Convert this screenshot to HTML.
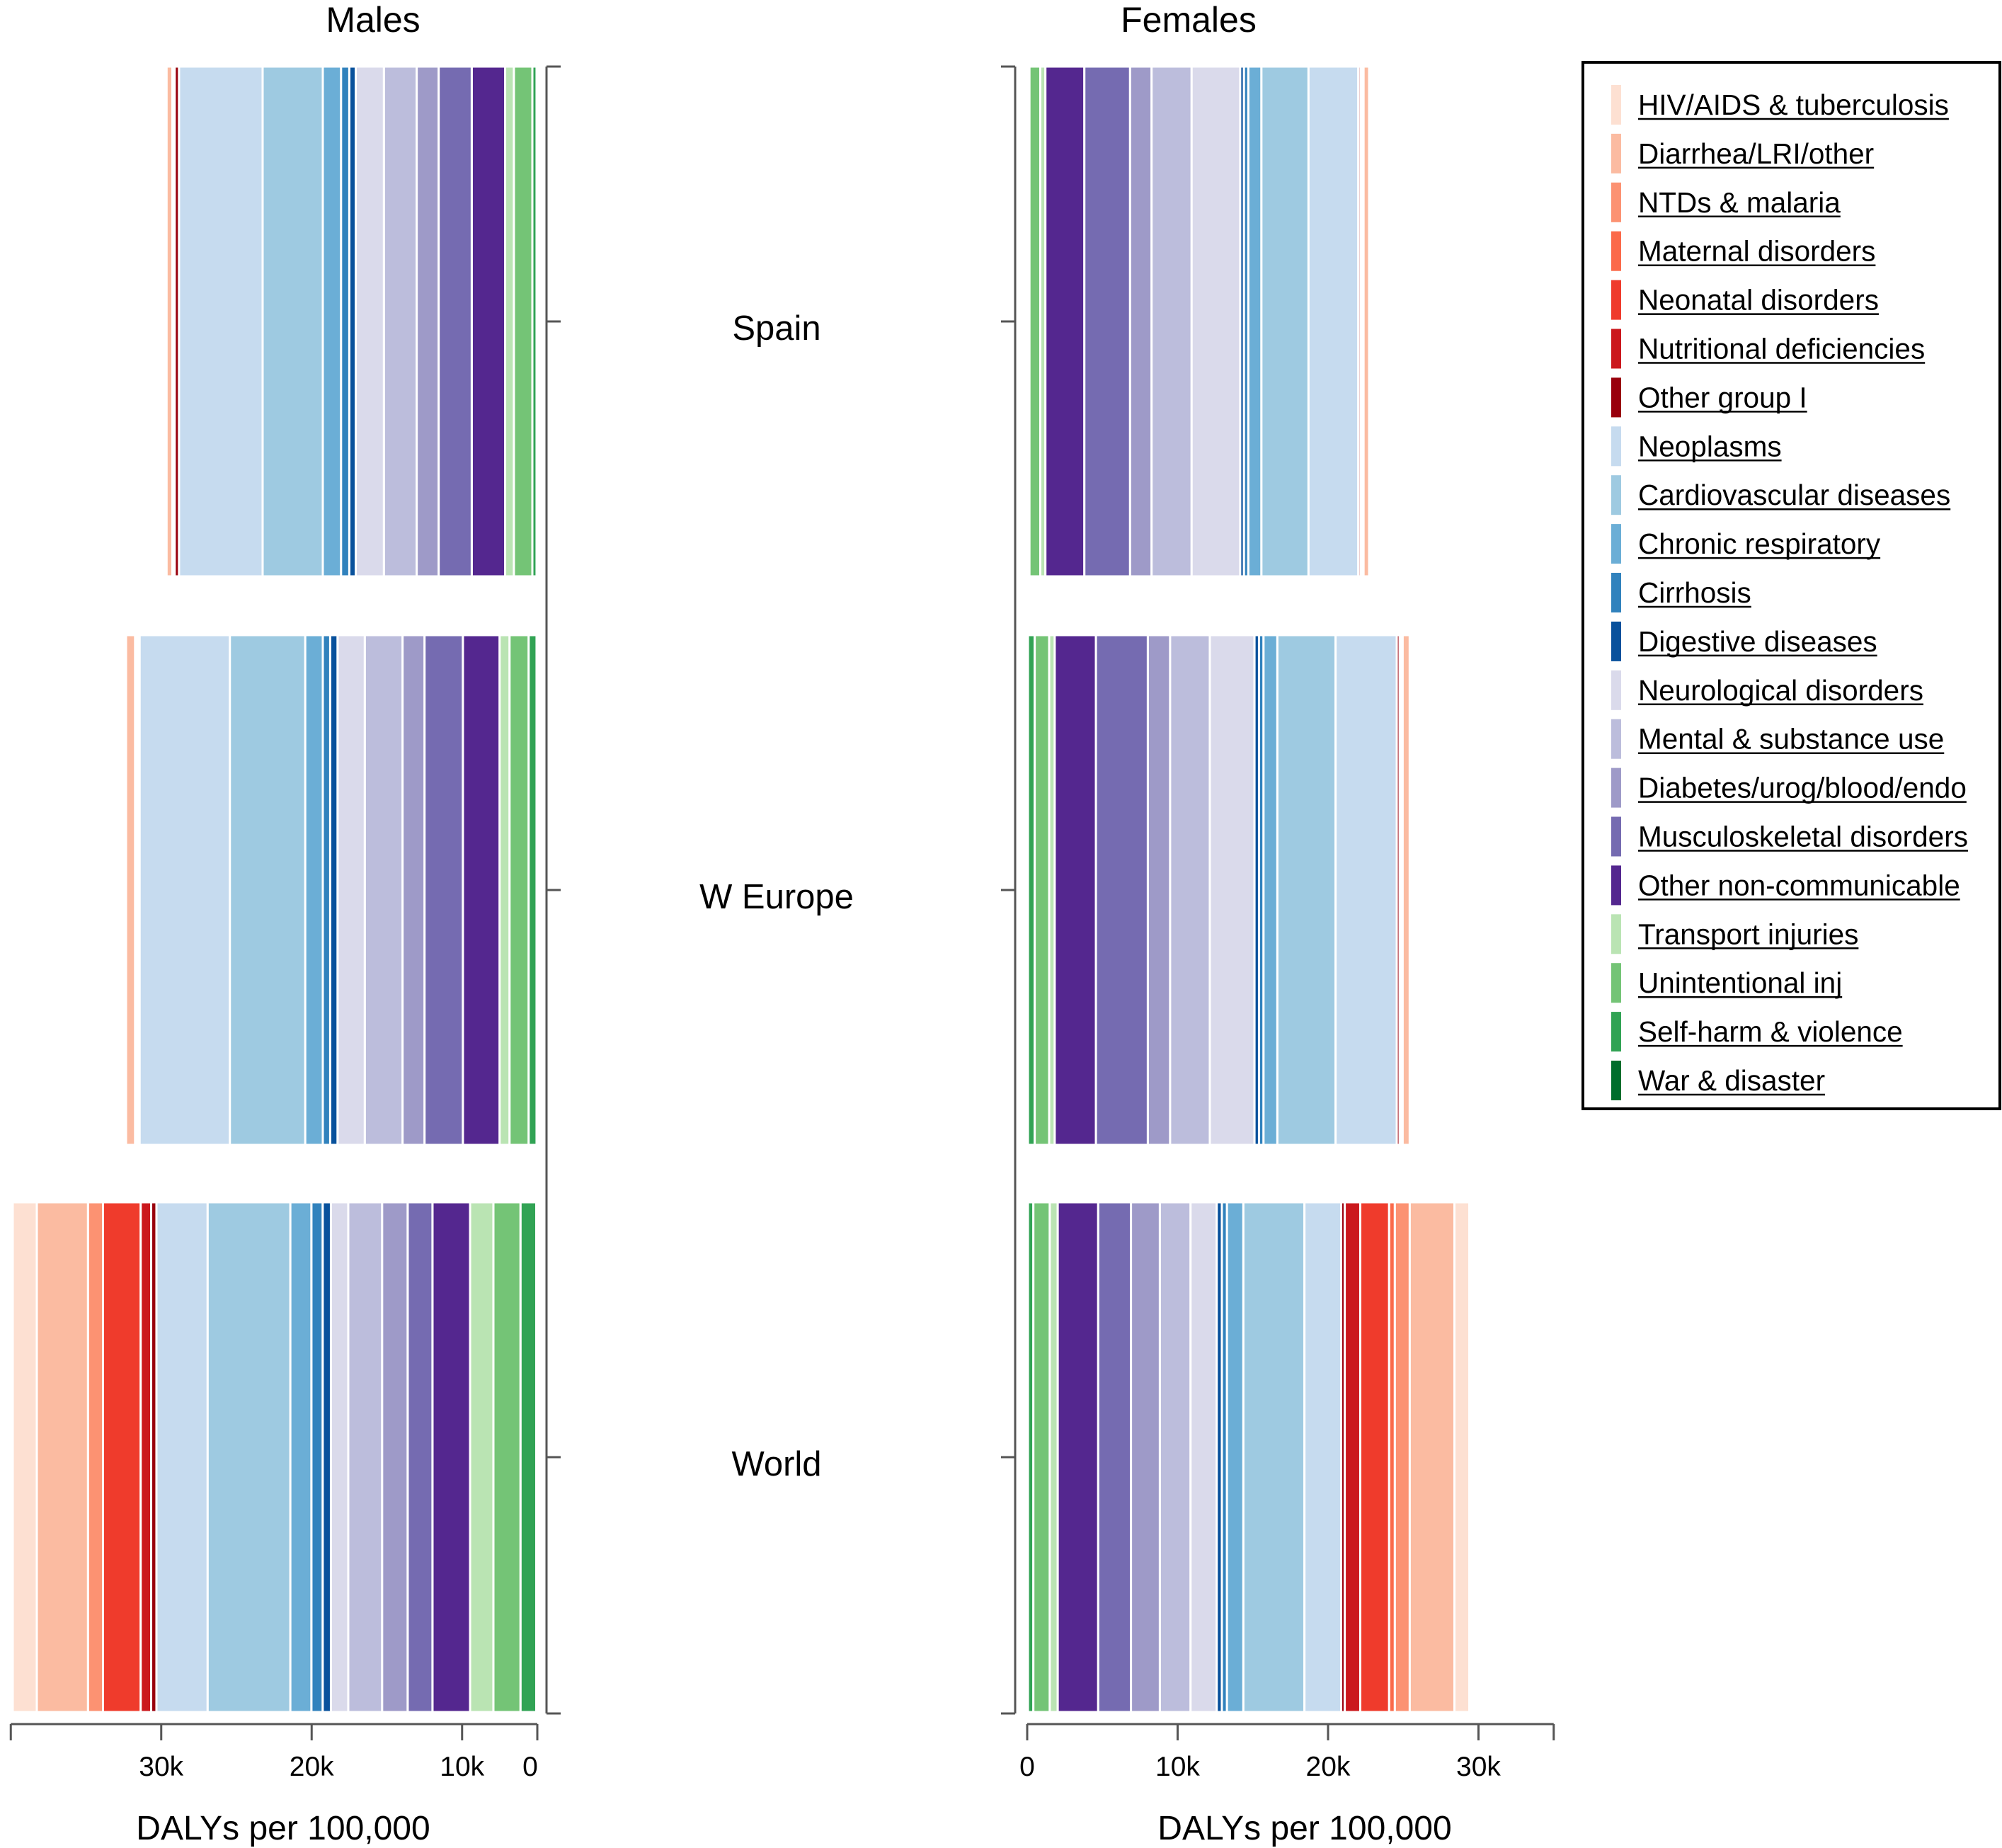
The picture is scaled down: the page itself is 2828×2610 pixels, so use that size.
<!DOCTYPE html>
<html><head><meta charset="utf-8"><style>
html,body{margin:0;padding:0;background:#fff;}
svg{display:block;font-family:"Liberation Sans",Arial,sans-serif;}
</style></head><body>
<svg id="chart" width="2828" height="2610" viewBox="0 0 2828 2610" xmlns="http://www.w3.org/2000/svg">
<text x="527" y="45" font-size="50" text-anchor="middle">Males</text>
<text x="1679" y="45" font-size="50" text-anchor="middle">Females</text>
<text x="400" y="2598" font-size="48" text-anchor="middle">DALYs per 100,000</text>
<text x="1843" y="2598" font-size="48" text-anchor="middle">DALYs per 100,000</text>
<g id="bars"></g>
<g id="axes"></g>
<g id="legend"></g>
</svg>
<script>
const causes = ["HIV/AIDS & tuberculosis","Diarrhea/LRI/other","NTDs & malaria","Maternal disorders","Neonatal disorders","Nutritional deficiencies","Other group I","Neoplasms","Cardiovascular diseases","Chronic respiratory","Cirrhosis","Digestive diseases","Neurological disorders","Mental & substance use","Diabetes/urog/blood/endo","Musculoskeletal disorders","Other non-communicable","Transport injuries","Unintentional inj","Self-harm & violence","War & disaster"];
const colors = ["#fde0d2","#fbbba1","#fc9272","#fb6a4a","#ef3b2c","#cb181d","#99000d","#c6dbef","#9ecae1","#6baed6","#3182bd","#08519c","#dadaeb","#bcbddc","#9e9ac8","#756bb1","#54278f","#bae4b3","#74c476","#31a354","#006d2c"];
const regions = ["Spain","W Europe","World"];
// values in thousands of DALYs per 100,000, in cause order above
const malesSpain   = [0.05,0.39,0.05,0,0.05,0.05,0.29,5.56,4.0,1.21,0.55,0.43,1.87,2.18,1.46,2.2,2.22,0.58,1.23,0.28,0.05];
const malesWEurope = [0.05,0.6,0.05,0,0.05,0.1,0.1,6.0,5.01,1.17,0.49,0.49,1.81,2.51,1.46,2.55,2.44,0.66,1.27,0.53,0.05];
const malesWorld   = [1.6,3.4,1.0,0,2.5,0.7,0.35,3.4,5.5,1.4,0.75,0.55,1.15,2.25,1.7,1.65,2.5,1.55,1.8,1.05,0.07];
const femalesSpain   = [0.05,0.37,0.05,0.05,0.05,0.05,0.15,3.31,3.13,0.87,0.29,0.25,3.23,2.66,1.43,3.04,2.59,0.34,0.72,0.1,0.05];
const femalesWEurope = [0.05,0.47,0.05,0.05,0.05,0.05,0.19,4.07,3.87,0.92,0.3,0.3,2.97,2.64,1.48,3.45,2.74,0.37,0.96,0.45,0.05];
const femalesWorld   = [0.99,2.97,0.99,0.38,1.92,1.03,0.24,2.44,4.06,1.09,0.34,0.34,1.74,2.04,1.92,2.18,2.69,0.53,1.09,0.36,0.05];
const maleTickValues = [25,15,5,0];
const maleTickLabels = ["30k","20k","10k","0"];
const femaleTickValues = [0,10,20,30];
const femaleTickLabels = ["0","10k","20k","30k"];

const NS="http://www.w3.org/2000/svg";
function mk(tag,attrs,parent){const e=document.createElementNS(NS,tag);for(const k in attrs)e.setAttribute(k,attrs[k]);parent.appendChild(e);return e;}
const PX=21.25;
const xMale = v => 759 - v*PX;
const xFemale = v => 1451 + v*PX;
const yCenter = i => [454,1257,2058][i];
const HALF=360;
const bars=document.getElementById('bars');
const maleData=[malesSpain,malesWEurope,malesWorld];
const femaleData=[femalesSpain,femalesWEurope,femalesWorld];
function drawBar(data,ri,xf,sex){
  let cum=0;
  for(let j=causes.length-1;j>=0;j--){
    const v=data[j]; if(v<=0){continue;}
    const a=xf(cum), b=xf(cum+v); cum+=v;
    const r=mk('rect',{x:Math.min(a,b),y:yCenter(ri)-HALF,width:Math.abs(b-a),height:2*HALF,fill:colors[j],stroke:'#fff','stroke-width':3},bars);
    
    
  }
}
for(let i=0;i<3;i++){drawBar(maleData[i],i,xMale,'male');drawBar(femaleData[i],i,xFemale,'female');}

const ax=document.getElementById('axes');
const st={stroke:'#555','stroke-width':3,fill:'none'};
let l=mk('line',Object.assign({x1:772,y1:94,x2:772,y2:2420},st),ax);


l=mk('line',Object.assign({x1:1434,y1:94,x2:1434,y2:2420},st),ax);


[94,454,1257,2058,2420].forEach(y=>{mk('line',Object.assign({x1:772,y1:y,x2:792,y2:y},st),ax);mk('line',Object.assign({x1:1434,y1:y,x2:1414,y2:y},st),ax);});
regions.forEach((r,i)=>{const t=mk('text',{x:1097,y:yCenter(i)+26,'font-size':49,'text-anchor':'middle'},ax);t.textContent=r;

});
l=mk('line',Object.assign({x1:xMale(35),y1:2435,x2:xMale(0),y2:2435},st),ax);


mk('line',Object.assign({x1:xMale(35),y1:2435,x2:xMale(35),y2:2458},st),ax);
maleTickValues.forEach((v,i)=>{mk('line',Object.assign({x1:xMale(v),y1:2435,x2:xMale(v),y2:2458},st),ax);
const t=mk('text',{x:xMale(v)-(i==3?10:0),y:2508,'font-size':39,'text-anchor':'middle'},ax);t.textContent=maleTickLabels[i];

});
l=mk('line',Object.assign({x1:xFemale(0),y1:2435,x2:xFemale(35),y2:2435},st),ax);


mk('line',Object.assign({x1:xFemale(35),y1:2435,x2:xFemale(35),y2:2458},st),ax);
femaleTickValues.forEach((v,i)=>{mk('line',Object.assign({x1:xFemale(v),y1:2435,x2:xFemale(v),y2:2458},st),ax);
const t=mk('text',{x:xFemale(v),y:2508,'font-size':39,'text-anchor':'middle'},ax);t.textContent=femaleTickLabels[i];

});

const lg=document.getElementById('legend');
mk('rect',{x:2236,y:88,width:589,height:1478,fill:'#fff',stroke:'#000','stroke-width':4},lg);
causes.forEach((c,i)=>{
  const cy=148+i*68.9;
  const s=mk('rect',{x:2276,y:cy-28,width:14,height:56,fill:colors[i]},lg);
  
  
  const t=mk('text',{x:2314,y:cy+14,'font-size':40.5},lg);
  t.textContent=c;
  
  
  mk('line',{x1:2314,y1:cy+20,x2:2314+t.getComputedTextLength(),y2:cy+20,stroke:'#000','stroke-width':2.5},lg);
});
</script>
</body></html>
